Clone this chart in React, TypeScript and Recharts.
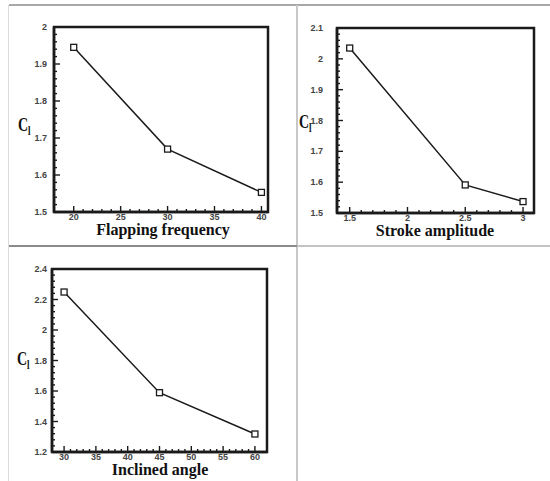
import React from 'react';
import { LineChart, Line, XAxis, YAxis, ReferenceArea } from 'recharts';

// flapping frequency panel
const freq = [20, 30, 40];
const clFreq = [1.945, 1.67, 1.553];
const freqTicks = [20, 25, 30, 35, 40];
const clFreqTicks = [1.5, 1.6, 1.7, 1.8, 1.9, 2];

// stroke amplitude panel
const amp = [1.5, 2.5, 3];
const clAmp = [2.035, 1.591, 1.537];
const ampTicks = [1.5, 2, 2.5, 3];
const clAmpTicks = [1.5, 1.6, 1.7, 1.8, 1.9, 2, 2.1];

// inclined angle panel
const angle = [30, 45, 60];
const clAngle = [2.249, 1.589, 1.318];
const angleTicks = [30, 35, 40, 45, 50, 55, 60];
const clAngleTicks = [1.2, 1.4, 1.6, 1.8, 2, 2.2, 2.4];

const PAD_L = 50;
const PAD_T = 10;
const PAD_R = 10;
const PAD_B = 30;

const INK = '#1a1a1a';
const TICK_FONT = '"Liberation Sans", Arial, sans-serif';
const TITLE_FONT = '"Liberation Serif", "Times New Roman", serif';

// major ticks plus 4 minor ticks in each interval
const withMinor = (major: number[], n = 4) => {
  const out: number[] = [];
  major.forEach((m, i) => {
    out.push(m);
    if (i < major.length - 1) {
      const step = (major[i + 1] - m) / (n + 1);
      for (let k = 1; k <= n; k++) out.push(+(m + k * step).toFixed(5));
    }
  });
  return out;
};

const isMajor = (v: number, majors: number[]) => majors.some((m) => Math.abs(m - v) < 1e-6);
const fmt = (v: number) => String(Math.round(v * 100) / 100);

const XTick = (props: any, majors: number[]) => {
  const { x, y, payload } = props;
  const major = isMajor(payload.value, majors);
  const len = major ? 6 : 3;
  return (
    <g>
      <line x1={x} x2={x} y1={y} y2={y - len} stroke={INK} strokeWidth={1.4} />
      {major && (
        <text x={x} y={y + 8} textAnchor="middle" fontSize={9} fontWeight="bold" fontFamily={TICK_FONT} fill="#444">
          {fmt(payload.value)}
        </text>
      )}
    </g>
  );
};

const YTick = (props: any, majors: number[], gap: number) => {
  const { x, y, payload } = props;
  const major = isMajor(payload.value, majors);
  const len = major ? 6 : 3;
  return (
    <g>
      <line x1={x} x2={x + len} y1={y} y2={y} stroke={INK} strokeWidth={1.4} />
      {major && (
        <text x={x - gap} y={y} dy="0.35em" textAnchor="end" fontSize={9} fontWeight="bold" fontFamily={TICK_FONT} fill="#444">
          {fmt(payload.value)}
        </text>
      )}
    </g>
  );
};

const SquareDot = (p: any) => (
  <rect key={`d-${p.index}`} x={p.cx - 3} y={p.cy - 3} width={6} height={6} fill="#fff" stroke={INK} strokeWidth={1.3} />
);

interface PanelProps {
  xs: number[];
  ys: number[];
  xTicks: number[];
  yTicks: number[];
  xDomain: [number, number];
  yDomain: [number, number];
  labelGap: number;
  box: { left: number; top: number; right: number; bottom: number };
}

const axisStyle = { stroke: INK, strokeWidth: 2.5 };

const Panel = ({ xs, ys, xTicks, yTicks, xDomain, yDomain, labelGap, box }: PanelProps) => {
  const data = xs.map((x, i) => ({ x, y: ys[i] }));
  const w = box.right - box.left;
  const h = box.bottom - box.top;
  return (
    <div style={{ position: 'absolute', left: box.left - PAD_L, top: box.top - PAD_T }}>
      <LineChart
        width={w + PAD_L + PAD_R}
        height={h + PAD_T + PAD_B}
        data={data}
        margin={{ top: PAD_T, right: PAD_R, left: 0, bottom: 0 }}
      >
        <XAxis
          dataKey="x"
          type="number"
          domain={xDomain}
          allowDataOverflow
          ticks={withMinor(xTicks)}
          interval={0}
          tickSize={0}
          tickMargin={0}
          tickLine={false}
          tick={(p: any) => XTick(p, xTicks)}
          height={PAD_B}
          axisLine={axisStyle}
        />
        <YAxis
          type="number"
          domain={yDomain}
          allowDataOverflow
          ticks={withMinor(yTicks)}
          interval={0}
          tickSize={0}
          tickMargin={0}
          tickLine={false}
          tick={(p: any) => YTick(p, yTicks, labelGap)}
          width={PAD_L}
          axisLine={axisStyle}
        />
        {/* closed plot frame */}
        <ReferenceArea
          x1={xDomain[0]}
          x2={xDomain[1]}
          y1={yDomain[0]}
          y2={yDomain[1]}
          fill="none"
          stroke={INK}
          strokeWidth={2.5}
          ifOverflow="visible"
        />
        <Line type="linear" dataKey="y" stroke={INK} strokeWidth={1.5} dot={SquareDot} isAnimationActive={false} />
      </LineChart>
    </div>
  );
};

const Cl = ({ x, y }: { x: number; y: number }) => (
  <text transform={`translate(${x},${y}) scale(1,1.3)`} fontFamily={TITLE_FONT} fontWeight="bold" fontSize={14} fill="#111">
    C<tspan fontSize={9} dy={3}>l</tspan>
  </text>
);

const Title = ({ x, y, children }: { x: number; y: number; children: string }) => (
  <text x={x} y={y} textAnchor="middle" fontFamily={TITLE_FONT} fontWeight="bold" fontSize={16} fill="#111">
    {children}
  </text>
);

export default function App() {
  return (
    <div style={{ position: 'absolute', left: 0, top: 0, width: 550, height: 481, background: '#fff', overflow: 'hidden' }}>
      {/* panel frame lines */}
      <div style={{ position: 'absolute', left: 9, top: 4, width: 541, height: 2, background: '#a8a8a8' }} />
      <div style={{ position: 'absolute', left: 8, top: 5, width: 1, height: 476, background: '#dcdcdc' }} />
      <div style={{ position: 'absolute', left: 296, top: 5, width: 2, height: 476, background: '#c8c8c8' }} />
      <div style={{ position: 'absolute', left: 9, top: 245, width: 288, height: 2, background: '#8a8a8a' }} />
      <div style={{ position: 'absolute', left: 297, top: 245, width: 253, height: 2, background: '#c4c4c4' }} />

      <Panel xs={freq} ys={clFreq} xTicks={freqTicks} yTicks={clFreqTicks} xDomain={[17.9, 40.7]} yDomain={[1.5, 2]} labelGap={7} box={{ left: 54, top: 27, right: 268, bottom: 212 }} />
      <Panel xs={amp} ys={clAmp} xTicks={ampTicks} yTicks={clAmpTicks} xDomain={[1.39, 3.095]} yDomain={[1.5, 2.1]} labelGap={14} box={{ left: 337, top: 28, right: 534, bottom: 213 }} />
      <Panel xs={angle} ys={clAngle} xTicks={angleTicks} yTicks={clAngleTicks} xDomain={[28.1, 61.9]} yDomain={[1.2, 2.4]} labelGap={5} box={{ left: 52, top: 269, right: 267, bottom: 452 }} />

      <svg width={550} height={481} style={{ position: 'absolute', left: 0, top: 0, pointerEvents: 'none' }}>
        <Cl x={18} y={131} />
        <Cl x={299} y={128} />
        <Cl x={17} y={365} />
        <Title x={163} y={235}>Flapping frequency</Title>
        <Title x={435} y={236}>Stroke amplitude</Title>
        <Title x={160} y={475}>Inclined angle</Title>
      </svg>
    </div>
  );
}
